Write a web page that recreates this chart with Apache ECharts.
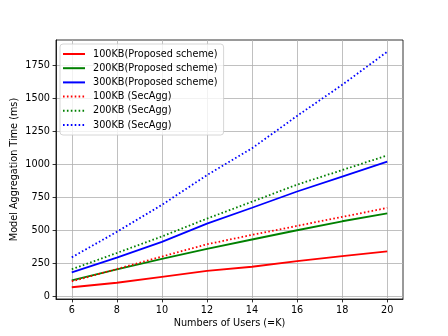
<!DOCTYPE html>
<html>
<head>
<meta charset="utf-8">
<script src="https://cdn.jsdelivr.net/npm/echarts@6/dist/echarts.min.js"></script>
<style>
  html, body { margin: 0; padding: 0; background: #fff; }
  #chart { width: 448px; height: 336px; }
</style>
</head>
<body>
<div id="chart"></div>
<script>
// number of users (K)
var users = [6, 8, 10, 12, 14, 16, 18, 20];

// aggregation time in ms
var proposed100 = [71, 105, 150, 195, 226, 268, 307, 343];
var proposed200 = [122, 207, 285, 362, 432, 502, 570, 629];
var proposed300 = [183, 295, 414, 552, 672, 795, 908, 1021];
var secAgg100 = [115, 209, 303, 396, 467, 535, 603, 671];
var secAgg200 = [207, 330, 455, 590, 718, 847, 957, 1068];
var secAgg300 = [297, 490, 694, 919, 1122, 1367, 1602, 1852];

// tick labels
var xTicks = [6, 8, 10, 12, 14, 16, 18, 20];
var yTicks = [0, 250, 500, 750, 1000, 1250, 1500, 1750];

var font = 'DejaVu Sans';
var dotted = [1.6, 2.3];

function pairs(ys) {
  return users.map(function (u, i) { return [u, ys[i]]; });
}

function line(name, color, ys, type) {
  return {
    name: name,
    type: 'line',
    data: pairs(ys),
    symbol: 'none',
    silent: true,
    lineStyle: { color: color, width: 1.8, type: type },
    itemStyle: { color: color }
  };
}

var chart = echarts.init(document.getElementById('chart'));
chart.setOption({
  animation: false,
  textStyle: { fontFamily: font },
  grid: {
    left: 56, right: 45, top: 40, bottom: 37,
    outerBoundsMode: 'none',
    containLabel: false,
    show: true, borderColor: '#000', borderWidth: 0.8, backgroundColor: 'transparent'
  },
  legend: {
    left: 60, top: 44,
    orient: 'vertical',
    itemWidth: 22, itemHeight: 10, itemGap: 4.2,
    padding: [5, 6, 5, 2],
    backgroundColor: 'rgba(255,255,255,0.8)',
    borderColor: '#cccccc', borderWidth: 0.8, borderRadius: 3,
    itemStyle: { opacity: 0 },
    textStyle: { fontFamily: font, fontSize: 9.7, color: '#000', padding: [0, 0, 0, 3] },
    data: ['100KB(Proposed scheme)', '200KB(Proposed scheme)', '300KB(Proposed scheme)',
           '100KB (SecAgg)', '200KB (SecAgg)', '300KB (SecAgg)']
  },
  xAxis: {
    type: 'value',
    min: 5.3, max: 20.7,
    name: 'Numbers of Users (=K)',
    nameLocation: 'middle', nameGap: 19,
    nameMoveOverlap: false,
    nameTextStyle: { fontFamily: font, fontSize: 9.7, color: '#000' },
    axisLine: { show: true, onZero: false, lineStyle: { color: '#000', width: 0.8 } },
    axisTick: { show: true, length: 3.4, customValues: xTicks, lineStyle: { color: '#000', width: 0.8 } },
    axisLabel: { customValues: xTicks, margin: 6, fontFamily: font, fontSize: 9.7, color: '#000',
      formatter: function (v) { return String(v); } },
    splitLine: { show: true, lineStyle: { color: '#b0b0b0', width: 0.8 } }
  },
  yAxis: {
    type: 'value',
    min: -18, max: 1941,
    name: 'Model Aggregation Time (ms)',
    nameLocation: 'middle', nameGap: 37,
    nameMoveOverlap: false,
    nameTextStyle: { fontFamily: font, fontSize: 9.7, color: '#000' },
    axisLine: { show: true, lineStyle: { color: '#000', width: 0.8 } },
    axisTick: { show: true, length: 3.4, customValues: yTicks, lineStyle: { color: '#000', width: 0.8 } },
    axisLabel: { customValues: yTicks, margin: 6, fontFamily: font, fontSize: 9.7, color: '#000',
      formatter: function (v) { return String(v); } },
    splitLine: { show: true, lineStyle: { color: '#b0b0b0', width: 0.8 } }
  },
  series: [
    line('100KB(Proposed scheme)', '#ff0000', proposed100, 'solid'),
    line('200KB(Proposed scheme)', '#008000', proposed200, 'solid'),
    line('300KB(Proposed scheme)', '#0000ff', proposed300, 'solid'),
    line('100KB (SecAgg)', '#ff0000', secAgg100, dotted),
    line('200KB (SecAgg)', '#008000', secAgg200, dotted),
    line('300KB (SecAgg)', '#0000ff', secAgg300, dotted)
  ]
});
</script>
</body>
</html>
